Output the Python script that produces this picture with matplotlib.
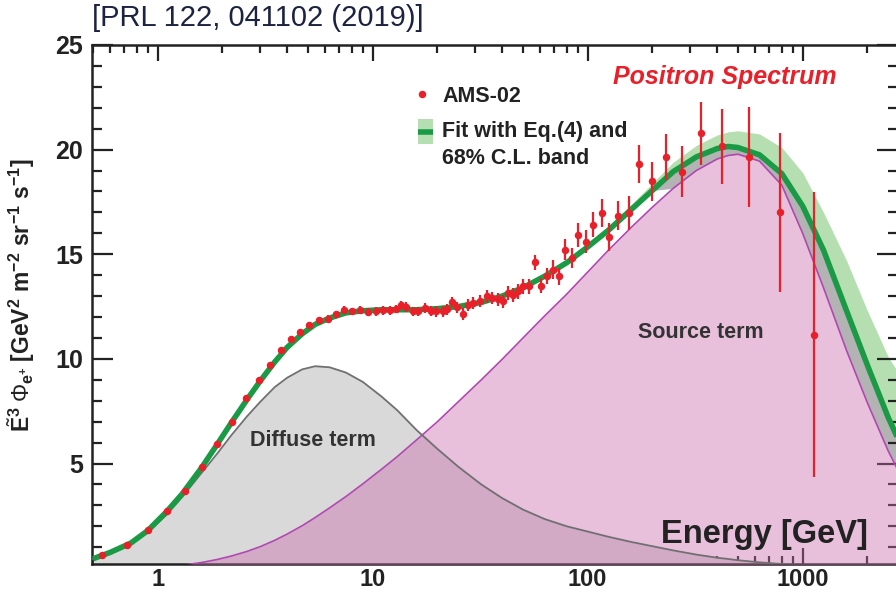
import matplotlib
matplotlib.use("Agg")
import matplotlib.pyplot as plt
from matplotlib.ticker import FixedLocator, MultipleLocator, LogLocator, NullFormatter
from matplotlib.patches import Rectangle
from matplotlib.lines import Line2D

plt.rcParams['font.family'] = ['Liberation Sans', 'DejaVu Sans']
plt.rcParams['mathtext.fontset'] = 'custom'
plt.rcParams['mathtext.rm'] = 'Liberation Sans'
plt.rcParams['mathtext.bf'] = 'Liberation Sans:bold'
plt.rcParams['mathtext.it'] = 'Liberation Sans:italic'

# AMS-02 positron flux x E^3
ams_E = [0.552, 0.718, 0.904, 1.108, 1.343, 1.61, 1.88, 2.22, 2.57, 2.95,
         3.34, 3.73, 4.15, 4.61, 5.07, 5.64, 6.22, 6.75, 7.38, 8.04,
         8.73, 9.54, 10.36, 11.2, 12.1, 12.9, 13.6, 14.3, 15.4, 16.3,
         17.5, 18.6, 19.8, 21.2, 22.1, 23.5, 24.8, 26.2, 27.9, 29.4,
         31.6, 33.9, 35.8, 38.4, 40.2, 42.7, 45.1, 47.6, 50.2, 53.5,
         56.9, 60.4, 64.4, 68.7, 73.5, 78.4, 84.3, 90.4, 98.2, 106,
         116, 126, 139, 155, 174, 200, 231, 275, 336, 423,
         563, 784, 1129]
ams_flux = [0.61, 1.09, 1.82, 2.72, 3.71, 4.82, 5.95, 6.99, 8.14, 8.98,
            9.71, 10.41, 10.93, 11.29, 11.63, 11.84, 11.92, 12.14, 12.35, 12.27,
            12.32, 12.24, 12.27, 12.32, 12.32, 12.38, 12.56, 12.48, 12.27, 12.27,
            12.43, 12.27, 12.27, 12.27, 12.38, 12.72, 12.46, 12.14, 12.59, 12.67,
            12.75, 12.99, 12.91, 12.86, 12.75, 13.15, 13.07, 13.23, 13.46, 13.46,
            14.61, 13.50, 13.94, 14.26, 13.94, 15.21, 14.82, 15.93, 15.61, 16.41,
            16.97, 15.82, 16.84, 16.97, 19.31, 18.48, 19.67, 18.95, 20.78, 20.15,
            19.64, 17.0, 11.16]
ams_err = [0.03, 0.04, 0.05, 0.06, 0.07, 0.08, 0.09, 0.10, 0.10, 0.10,
           0.12, 0.12, 0.13, 0.14, 0.15, 0.15, 0.16, 0.17, 0.18, 0.18,
           0.19, 0.20, 0.20, 0.20, 0.21, 0.21, 0.22, 0.22, 0.23, 0.23,
           0.24, 0.24, 0.25, 0.25, 0.26, 0.26, 0.27, 0.27, 0.28, 0.28,
           0.29, 0.30, 0.30, 0.31, 0.32, 0.33, 0.34, 0.35, 0.36, 0.37,
           0.37, 0.37, 0.38, 0.45, 0.42, 0.50, 0.48, 0.57, 0.57, 0.60,
           0.65, 0.68, 0.70, 0.83, 0.92, 0.95, 1.10, 1.20, 1.50, 1.80,
           2.40, 3.80, 6.80]

# model curves
E_grid = [0.5, 0.6, 0.75, 0.9, 1.1, 1.3, 1.6, 1.9, 2.2, 2.6,
          3.0, 3.5, 4.0, 4.7, 5.4, 6.3, 7.5, 9.0, 11, 13,
          16, 20, 25, 32, 40, 50, 63, 80, 100, 125,
          160, 200, 250, 320, 400, 450, 500, 630, 800, 1000,
          1250, 1600, 2000, 2500, 2800]
diffuse = [0.45, 0.72, 1.15, 1.72, 2.55, 3.4, 4.55, 5.5, 6.35, 7.25,
           7.95, 8.65, 9.1, 9.5, 9.65, 9.6, 9.35, 8.9, 8.2, 7.55,
           6.6, 5.7, 4.85, 4.0, 3.35, 2.8, 2.35, 2.0, 1.75, 1.5,
           1.25, 1.05, 0.85, 0.65, 0.5, 0.44, 0.38, 0.28, 0.2, 0.15,
           0.11, 0.08, 0.06, 0.04, 0.03]
source = [0.0, 0.0, 0.01, 0.03, 0.08, 0.14, 0.27, 0.42, 0.58, 0.8,
          1.03, 1.33, 1.63, 2.03, 2.42, 2.88, 3.42, 4.03, 4.73, 5.33,
          6.13, 7.0, 7.95, 9.0, 9.98, 11.0, 12.05, 13.1, 14.15, 15.2,
          16.3, 17.25, 18.15, 19.0, 19.55, 19.72, 19.78, 19.45, 18.3, 16.0,
          13.4, 10.4, 7.9, 5.6, 4.6]
fit = [0.45, 0.75, 1.2, 1.8, 2.7, 3.55, 4.8, 5.95, 6.95, 8.05,
       8.95, 9.85, 10.55, 11.2, 11.65, 11.95, 12.2, 12.3, 12.35, 12.35,
       12.35, 12.4, 12.5, 12.7, 13.0, 13.4, 13.95, 14.6, 15.35, 16.15,
       17.15, 18.05, 18.95, 19.65, 20.05, 20.15, 20.1, 19.75, 18.85, 17.3,
       15.2, 12.3, 9.7, 7.2, 6.1]
fit_hi = [0.55, 0.85, 1.3, 1.9, 2.8, 3.65, 4.9, 6.05, 7.05, 8.15,
          9.05, 9.95, 10.65, 11.3, 11.75, 12.05, 12.3, 12.4, 12.45, 12.45,
          12.45, 12.5, 12.6, 12.8, 13.1, 13.5, 14.05, 14.72, 15.5, 16.35,
          17.4, 18.4, 19.4, 20.2, 20.7, 20.85, 20.9, 20.75, 20.1, 18.9,
          17.0, 14.7, 12.3, 10.1, 9.3]
fit_lo = [0.45, 0.75, 1.2, 1.8, 2.7, 3.55, 4.8, 5.95, 6.95, 8.05,
          8.95, 9.85, 10.55, 11.2, 11.65, 11.95, 12.2, 12.3, 12.35, 12.35,
          12.35, 12.4, 12.5, 12.7, 13.0, 13.4, 13.95, 14.6, 15.35, 16.15,
          17.15, 18.05, 18.15, 19.0, 19.55, 19.72, 19.78, 19.45, 18.3, 16.0,
          13.4, 10.4, 7.9, 5.6, 4.6]

xticks = [1, 10, 100, 1000]
xtick_labels = ['1', '10', '100', '1000']
yticks = [5, 10, 15, 20, 25]

red = '#e8202a'
dark = '#222222'

fig = plt.figure(figsize=(8.96, 5.92), dpi=100)
ax = fig.add_axes([0.1023, 0.0473, 0.8999, 0.8767])

ax.fill_between(E_grid, fit, fit_hi, color='#b6dfb1', lw=0, zorder=1)
ax.fill_between(E_grid, fit_lo, fit, color='#b3b3b3', lw=0, zorder=1.5)
ax.fill_between(E_grid, 0, diffuse, color='#d9d9d9', lw=0, zorder=2)
ax.fill_between(E_grid, 0, source, color=(0.79, 0.42, 0.68, 0.42), lw=0, zorder=3)
ax.plot(E_grid, source, color='#b048b0', lw=1.2, zorder=3.5)
ax.plot(E_grid, diffuse, color='#707070', lw=1.3, zorder=3.6)
ax.plot(E_grid, fit, color='#1a9a45', lw=4.0, solid_capstyle='butt', zorder=4)
ax.errorbar(ams_E, ams_flux, yerr=ams_err, fmt='o', color=red, ms=5.4,
            mec='none', elinewidth=1.6, capsize=0, zorder=5)

ax.set_xscale('log')
ax.set_xlim(0.493, 2775)
ax.set_ylim(0.2, 25)

ax.xaxis.set_major_locator(FixedLocator(xticks))
ax.set_xticklabels(xtick_labels)
ax.xaxis.set_minor_locator(LogLocator(base=10, subs=range(2, 10)))
ax.xaxis.set_minor_formatter(NullFormatter())
ax.yaxis.set_major_locator(FixedLocator(yticks))
ax.yaxis.set_minor_locator(MultipleLocator(1))

for s in ax.spines.values():
    s.set_linewidth(1.8)
    s.set_color(dark)
ax.tick_params(which='both', direction='in', top=True, right=True,
               width=1.6, color=dark, labelcolor=dark)
ax.tick_params(axis='x', which='major', length=11.5, pad=3, labelsize=17)
ax.tick_params(axis='x', which='minor', length=5.5)
ax.tick_params(axis='y', which='major', length=15, pad=6, labelsize=18)
ax.tick_params(axis='y', which='minor', length=7)
for lab in ax.get_xticklabels() + ax.get_yticklabels():
    lab.set_fontweight('bold')

ax.set_ylabel(r'$\tilde{\mathbf{E}}^{\mathbf{3}}\;\Phi_{\mathbf{e^{+}}}\;\mathbf{[GeV^{2}\ m^{-2}\ sr^{-1}\ s^{-1}]}$',
              fontsize=16.5, color=dark)
ax.yaxis.set_label_coords(-0.068, 0.518)

ax.text(0.963, 0.040, 'Energy [GeV]', transform=ax.transAxes, ha='right',
        va='baseline', fontsize=23.5, fontweight='bold', color=dark, zorder=6)
ax.text(0.924, 0.938, 'Positron Spectrum', transform=ax.transAxes, ha='right',
        va='center', fontsize=18, fontweight='bold', style='italic', color=red)
ax.text(0.2745, 0.237, 'Diffuse term', transform=ax.transAxes, ha='center',
        va='center', fontsize=15.5, fontweight='bold', color='#333333', zorder=6)
ax.text(0.756, 0.447, 'Source term', transform=ax.transAxes, ha='center',
        va='center', fontsize=15.5, fontweight='bold', color='#333333', zorder=6)

# legend
ax.plot([0.410], [0.9055], 'o', color=red, ms=5.4, mec='none', transform=ax.transAxes,
        clip_on=False, zorder=6)
ax.text(0.4345, 0.9017, 'AMS-02', transform=ax.transAxes, ha='left', va='center',
        fontsize=15.5, fontweight='bold', color=dark)
ax.add_patch(Rectangle((0.4047, 0.809), 0.0186, 0.048, transform=ax.transAxes,
                       color='#b6dfb1', lw=0, zorder=6))
ax.add_line(Line2D([0.4047, 0.4233], [0.833, 0.833], transform=ax.transAxes,
                   color='#1a9a45', lw=4.0, solid_capstyle='butt', zorder=7))
ax.text(0.4345, 0.834, 'Fit with Eq.(4) and', transform=ax.transAxes, ha='left',
        va='center', fontsize=15.5, fontweight='bold', color=dark)
ax.text(0.4345, 0.782, '68% C.L. band', transform=ax.transAxes, ha='left',
        va='center', fontsize=15.5, fontweight='bold', color=dark)

fig.text(0.1027, 0.9696, '[PRL 122, 041102 (2019)]', ha='left', va='center',
         fontsize=21, color='#1c2340')

fig.savefig('out.png', dpi=100)
